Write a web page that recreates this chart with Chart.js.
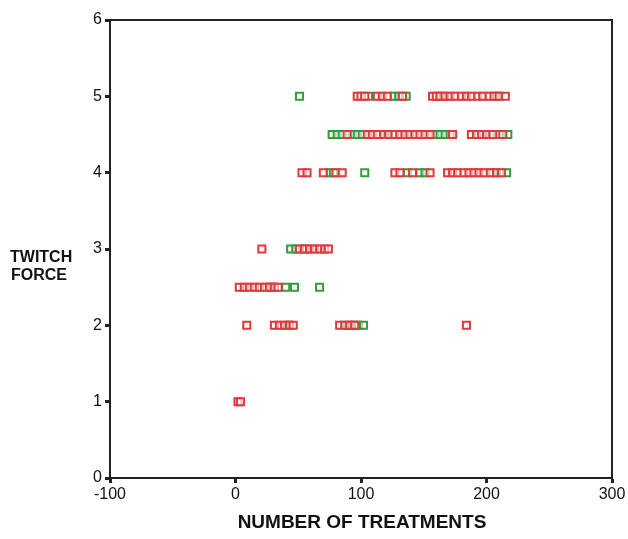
<!DOCTYPE html>
<html>
<head>
<meta charset="utf-8">
<script src="https://cdn.jsdelivr.net/npm/chart.js@4/dist/chart.umd.min.js"></script>
<style>
html,body{margin:0;padding:0;background:#fff;}
#wrap{position:relative;width:628px;height:539px;}
</style>
</head>
<body>
<div id="wrap"><canvas id="c" width="628" height="539"></canvas></div>
<script>
// Twitch force levels (y) with number of treatments (x) per group
const red_x_5   = [97, 100, 103, 113, 117, 121, 133, 157, 160, 163, 167, 171, 175, 180, 184, 188, 193, 197, 202, 206, 210, 215];
const green_x_5 = [51, 106, 126, 130, 136, 165, 208];
const red_x_45   = [89, 105, 109, 113, 118, 122, 127, 131, 135, 139, 143, 147, 151, 155, 173, 188, 192, 196, 200, 205, 213];
const green_x_45 = [77, 81, 85, 93, 97, 101, 115, 125, 137, 159, 163, 167, 171, 203, 210, 217];
const red_x_4   = [53, 57, 70, 80, 85, 127, 131, 141, 155, 169, 173, 177, 182, 186, 190, 194, 198, 203, 208, 212];
const green_x_4 = [75, 78, 103, 137, 147, 151, 205, 216];
const red_x_3   = [21, 51, 55, 59, 63, 67, 71, 74];
const green_x_3 = [44, 48, 56];
const red_x_25   = [3, 7, 11, 15, 19, 23, 27, 31, 34];
const green_x_25 = [27, 30, 40, 47, 67];
const red_x_2   = [9, 31, 35, 39, 43, 46, 83, 87, 91, 95, 184];
const green_x_2 = [42, 90, 94, 98, 102];
const red_x_1   = [2, 4];
const green_x_1 = [];

const xTicks = [-100, 0, 100, 200, 300];
const yTicks = [0, 1, 2, 3, 4, 5, 6];
const xTitle = "NUMBER OF TREATMENTS";
const yTitle = ["TWITCH", "FORCE"];

function pts(xs, y){ return xs.map(x => ({x: x, y: y})); }
const redData = [].concat(pts(red_x_5,5), pts(red_x_45,4.5), pts(red_x_4,4), pts(red_x_3,3), pts(red_x_25,2.5), pts(red_x_2,2), pts(red_x_1,1));
const greenData = [].concat(pts(green_x_5,5), pts(green_x_45,4.5), pts(green_x_4,4), pts(green_x_3,3), pts(green_x_25,2.5), pts(green_x_2,2), pts(green_x_1,1));

const RED = '#e0383c';
const GREEN = '#2e9e3e';

const framePlugin = {
  id: 'frame',
  beforeDatasetsDraw(chart){
    const {ctx, chartArea:a} = chart;
    ctx.save();
    ctx.strokeStyle = '#222';
    ctx.lineWidth = 2;
    ctx.strokeRect(a.left, a.top, a.right - a.left, a.bottom - a.top);
    ctx.restore();
  },
  afterDraw(chart){
    const {ctx} = chart;
    ctx.save();
    ctx.fillStyle = '#111';
    ctx.font = 'bold 16px "Liberation Sans", Arial, sans-serif';
    ctx.textAlign = 'left';
    ctx.textBaseline = 'middle';
    ctx.fillText(yTitle[0], 10, 258);
    ctx.fillText(yTitle[1], 11, 276);
    ctx.font = 'bold 19px "Liberation Sans", Arial, sans-serif';
    ctx.textAlign = 'center';
    ctx.fillText(xTitle, 362, 523);
    ctx.restore();
  }
};

new Chart(document.getElementById('c'), {
  type: 'scatter',
  data: {
    datasets: [
      {label: 'red', data: redData, pointStyle: 'rect', radius: 5, borderColor: RED, backgroundColor: 'rgba(255,255,255,0.6)', borderWidth: 2},
      {label: 'green', data: greenData, pointStyle: 'rect', radius: 5, borderColor: GREEN, backgroundColor: 'rgba(255,255,255,0.6)', borderWidth: 2}
    ]
  },
  options: {
    responsive: false,
    animation: false,
    events: [],
    layout: {padding: {left: 0, right: 16, top: 20, bottom: 0}},
    plugins: {legend: {display: false}, tooltip: {enabled: false}},
    scales: {
      x: {
        type: 'linear', min: -100, max: 300,
        afterBuildTicks(s){ s.ticks = xTicks.map(v => ({value: v})); },
        afterFit(s){ s.height = 61; },
        border: {display: true, color: '#222', width: 2},
        grid: {display: true, drawOnChartArea: false, drawTicks: true, tickLength: 5, tickWidth: 3, tickColor: '#222'},
        ticks: {color: '#111', padding: 2, maxRotation: 0, font: {family: '"Liberation Sans", Arial, sans-serif', size: 16}}
      },
      y: {
        type: 'linear', min: 0, max: 6,
        afterBuildTicks(s){ s.ticks = yTicks.map(v => ({value: v})); },
        afterFit(s){ s.width = 110; },
        border: {display: true, color: '#222', width: 2},
        grid: {display: true, drawOnChartArea: false, drawTicks: true, tickLength: 5, tickWidth: 3, tickColor: '#222'},
        ticks: {color: '#111', padding: 3, font: {family: '"Liberation Sans", Arial, sans-serif', size: 16}}
      }
    }
  },
  plugins: [framePlugin]
});
</script>
</body>
</html>
